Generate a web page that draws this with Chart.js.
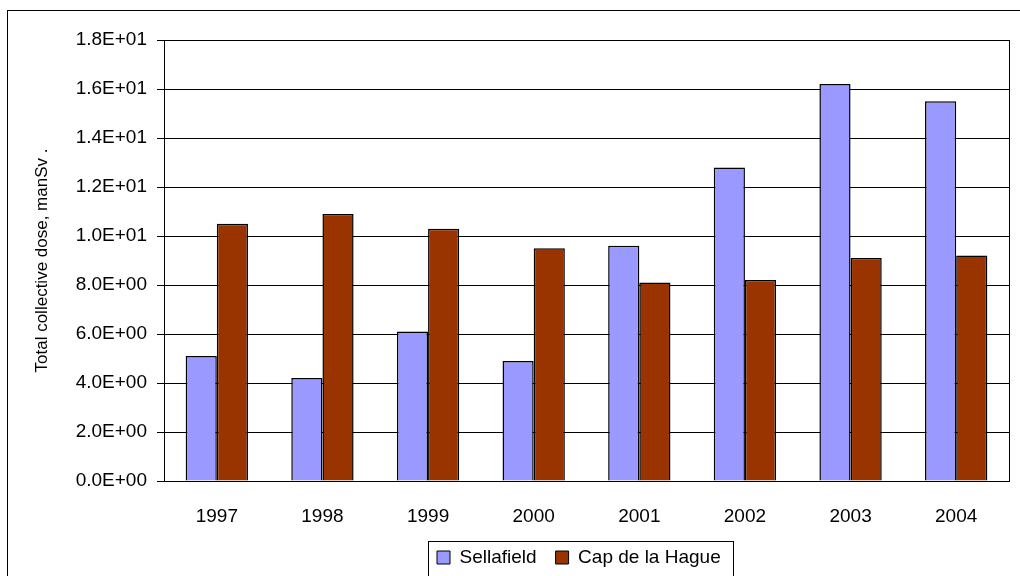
<!DOCTYPE html>
<html>
<head>
<meta charset="utf-8">
<script src="https://cdn.jsdelivr.net/npm/chart.js@4"></script>
<style>
  html, body { margin: 0; padding: 0; background: #ffffff; }
  #wrap { width: 1020px; height: 576px; }
</style>
</head>
<body>
<div id="wrap"><canvas id="graficoDose" width="1020" height="576"></canvas></div>
<script>
// dados
const anos = ["1997", "1998", "1999", "2000", "2001", "2002", "2003", "2004"];
const sellafield = [5.1, 4.2, 6.1, 4.9, 9.6, 12.8, 16.2, 15.5];
const capDeLaHague = [10.5, 10.9, 10.3, 9.5, 8.1, 8.2, 9.1, 9.2];
const rotulosY = ["0.0E+00", "2.0E+00", "4.0E+00", "6.0E+00", "8.0E+00",
  "1.0E+01", "1.2E+01", "1.4E+01", "1.6E+01", "1.8E+01"];

const fonte = "'Liberation Sans', Arial, sans-serif";

// fundo branco, moldura externa, borda da área de plotagem e caixa da legenda
const molduraPlugin = {
  id: "moldura",
  beforeInit(chart) {
    // texto do Excel é um pouco mais espaçado
    chart.ctx.letterSpacing = "1px";
  },
  afterUpdate(chart) {
    // legenda centrada na área de plotagem, não no canvas
    const legenda = chart.legend;
    const boxes = legenda.legendHitBoxes;
    if (!boxes || !boxes.length) return;
    const dx = 437 - boxes[0].left;
    legenda.left += dx;
    legenda.right += dx;
    boxes.forEach(b => { b.left += dx; });
  },
  beforeDraw(chart) {
    const ctx = chart.ctx;
    ctx.save();
    ctx.fillStyle = "#ffffff";
    ctx.fillRect(0, 0, chart.width, chart.height);
    ctx.strokeStyle = "#000000";
    ctx.lineWidth = 1;
    ctx.strokeRect(7.5, 10.5, 1200, 1000);
    ctx.restore();
  },
  afterDraw(chart) {
    const ctx = chart.ctx;
    const a = chart.chartArea;
    ctx.save();
    ctx.strokeStyle = "#000000";
    ctx.lineWidth = 1;
    ctx.strokeRect(Math.round(a.left) + 0.5, Math.round(a.top) + 0.5,
      Math.round(a.right - a.left), Math.round(a.bottom - a.top));

    const boxes = chart.legend.legendHitBoxes;
    if (boxes && boxes.length) {
      const l = Math.min(...boxes.map(b => b.left)) - 9;
      const r = Math.max(...boxes.map(b => b.left + b.width)) + 12;
      ctx.strokeRect(Math.round(l) + 0.5, 541.5, Math.round(r - l), 100);
    }
    ctx.restore();
  }
};

const ctx = document.getElementById("graficoDose").getContext("2d");

new Chart(ctx, {
  type: "bar",
  data: {
    labels: anos,
    datasets: [
      {
        label: "Sellafield",
        data: sellafield,
        backgroundColor: "#9999FF",
        borderColor: "#000000",
        borderWidth: 1.5
      },
      {
        label: "Cap de la Hague",
        data: capDeLaHague,
        backgroundColor: "#993300",
        borderColor: "#000000",
        borderWidth: 1.5
      }
    ]
  },
  options: {
    responsive: false,
    animation: false,
    devicePixelRatio: 1,
    layout: { padding: { left: 0, right: 11, top: 40, bottom: -1 } },
    datasets: {
      bar: { categoryPercentage: 0.59, barPercentage: 1 }
    },
    scales: {
      x: {
        grid: { display: false },
        border: { display: false },
        ticks: {
          color: "#000000",
          padding: 16,
          maxRotation: 0,
          font: { family: fonte, size: 19 }
        },
        afterFit(scale) { scale.height = 48; }
      },
      y: {
        min: 0,
        max: 18,
        grid: {
          color: "#000000",
          lineWidth: 1,
          tickLength: 7,
          drawTicks: true
        },
        border: { display: true, color: "#000000" },
        ticks: {
          stepSize: 2,
          color: "#000000",
          padding: 10,
          font: { family: fonte, size: 19 },
          callback: (v, i) => rotulosY[i]
        },
        title: {
          display: true,
          text: "Total collective dose, manSv .",
          color: "#000000",
          padding: { top: 32, bottom: 0 },
          font: { family: fonte, size: 17 }
        },
        afterFit(scale) { scale.width = 164; }
      }
    },
    plugins: {
      tooltip: { enabled: false },
      legend: {
        position: "bottom",
        labels: {
          color: "#000000",
          boxWidth: 13,
          boxHeight: 13,
          padding: 19,
          font: { family: fonte, size: 19 },
          generateLabels(chart) {
            return chart.data.datasets.map((ds, i) => ({
              text: ds.label,
              fillStyle: ds.backgroundColor,
              strokeStyle: "#000000",
              lineWidth: 1,
              fontColor: "#000000",
              datasetIndex: i
            }));
          }
        }
      }
    }
  },
  plugins: [molduraPlugin]
});
</script>
</body>
</html>
